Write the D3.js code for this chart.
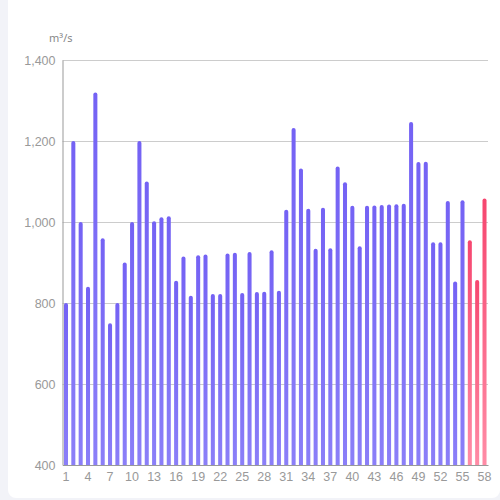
<!DOCTYPE html>
<html>
<head>
<meta charset="utf-8">
<script src="https://cdn.jsdelivr.net/npm/d3@7.9.0/dist/d3.min.js"></script>
<style>
  html, body { margin: 0; padding: 0; background: #f2f3f8; }
  #card { position: absolute; left: 8px; top: -10px; width: 492px; height: 508px; background: #fff; border-radius: 8px; }
  svg { position: absolute; left: 0; top: 0; font-family: "Microsoft YaHei", "Noto Sans", sans-serif; }
</style>
</head>
<body>
<div id="card"></div>
<svg id="chart" width="500" height="500"></svg>
<script>
// values per day (m³/s); last three are forecast
const days = d3.range(1, 59);
const flow = [
  800, 1200, 1000, 840, 1320, 960, 750, 800, 900, 1000,
  1200, 1100, 1002, 1012, 1014, 855, 915, 818, 918, 920,
  822, 822, 922, 924, 825, 926, 827, 828, 930, 830,
  1030, 1232, 1132, 1033, 934, 1035, 935, 1137, 1098, 1040,
  940, 1040, 1041, 1042, 1043, 1044, 1045, 1247, 1148, 1149,
  950, 950, 1052, 853, 1054, 955, 857, 1058
];
const forecastFrom = 56;
const yTicks = [400, 600, 800, 1000, 1200, 1400];
const xTicks = d3.range(1, 59, 3);

const margin = { top: 60, right: 12, bottom: 35, left: 62.5 };
const width = 500, height = 500;

const svg = d3.select('#chart');

const x = d3.scaleBand()
  .domain(days)
  .range([margin.left, width - margin.right])
  .paddingInner(0.45)
  .paddingOuter(0.2);

const y = d3.scaleLinear()
  .domain([400, 1400])
  .range([height - margin.bottom, margin.top]);

// gradients
const defs = svg.append('defs');
function grad(id, top, bottom) {
  const g = defs.append('linearGradient').attr('id', id)
    .attr('x1', 0).attr('y1', 0).attr('x2', 0).attr('y2', 1);
  g.append('stop').attr('offset', '0%').attr('stop-color', top);
  g.append('stop').attr('offset', '100%').attr('stop-color', bottom);
}
grad('gPurple', '#7462f4', '#8b7ff8');
grad('gRed', '#f6466f', '#ff8ca6');

// grid lines
svg.append('g')
  .selectAll('line')
  .data(yTicks.slice(1))
  .join('line')
  .attr('x1', margin.left)
  .attr('x2', width - margin.right)
  .attr('y1', d => Math.round(y(d)) + 0.5)
  .attr('y2', d => Math.round(y(d)) + 0.5)
  .attr('stroke', '#cccccc');

// bars
svg.append('g')
  .selectAll('path')
  .data(days)
  .join('path')
  .attr('fill', d => d >= forecastFrom ? 'url(#gRed)' : 'url(#gPurple)')
  .attr('d', (d, i) => {
    const x0 = x(d), w = x.bandwidth(), top = y(flow[i]), bot = y(400), r = w / 2;
    return `M${x0},${bot} L${x0},${top + r} A${r},${r} 0 0 1 ${x0 + w},${top + r} L${x0 + w},${bot} Z`;
  });

// y axis
const yAxis = svg.append('g')
  .attr('transform', `translate(${margin.left},0)`)
  .call(d3.axisLeft(y).tickValues(yTicks).tickSize(0).tickPadding(7).tickFormat(d3.format(',')));
yAxis.select('.domain').attr('stroke', '#999');
yAxis.selectAll('text').attr('fill', '#999').attr('font-size', 12.5);

// x axis
const xAxis = svg.append('g')
  .attr('transform', `translate(0,${height - margin.bottom})`)
  .call(d3.axisBottom(x).tickValues(xTicks).tickSize(0).tickPadding(7));
xAxis.select('.domain').attr('stroke', '#999');
xAxis.selectAll('text').attr('fill', '#999').attr('font-size', 12.5);

// unit label
svg.append('text')
  .attr('x', 49)
  .attr('y', 42)
  .attr('fill', '#888')
  .attr('font-size', 11)
  .text('m³/s');
</script>
</body>
</html>
